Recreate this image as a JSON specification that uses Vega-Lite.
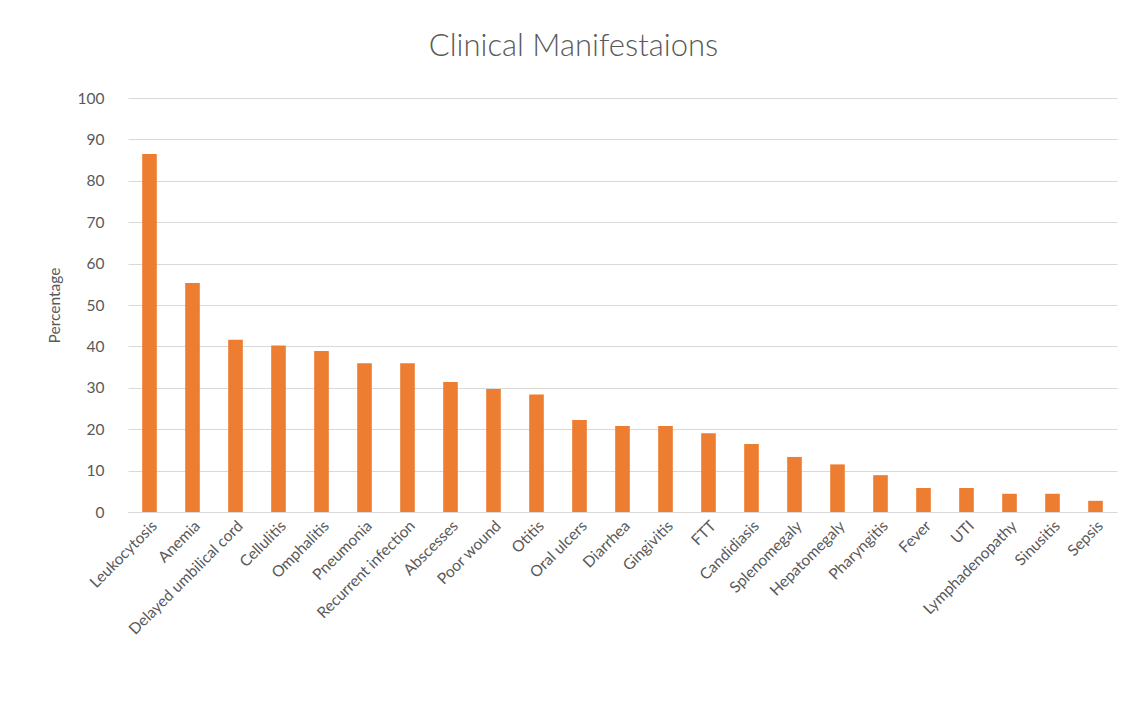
{
  "$schema": "https://vega.github.io/schema/vega-lite/v6.json",
  "autosize": {"type": "none"},
  "width": 989,
  "height": 414,
  "padding": {"left": 128, "top": 98, "right": 14, "bottom": 190},
  "background": "white",
  "title": {"text": "Clinical Manifestaions", "fontSize": 31, "font": "Lato", "fontWeight": 300, "color": "#595959", "offset": 28, "anchor": "middle", "dx": -49},
  "data": {"values": [
    {"m": "Leukocytosis", "p": 86.5},
    {"m": "Anemia", "p": 55.3},
    {"m": "Delayed umbilical cord", "p": 41.6},
    {"m": "Cellulitis", "p": 40.2},
    {"m": "Omphalitis", "p": 38.9},
    {"m": "Pneumonia", "p": 35.9},
    {"m": "Recurrent infection", "p": 35.9},
    {"m": "Abscesses", "p": 31.4},
    {"m": "Poor wound", "p": 29.7},
    {"m": "Otitis", "p": 28.4},
    {"m": "Oral ulcers", "p": 22.2},
    {"m": "Diarrhea", "p": 20.8},
    {"m": "Gingivitis", "p": 20.8},
    {"m": "FTT", "p": 19.0},
    {"m": "Candidiasis", "p": 16.4},
    {"m": "Splenomegaly", "p": 13.3},
    {"m": "Hepatomegaly", "p": 11.5},
    {"m": "Pharyngitis", "p": 8.9},
    {"m": "Fever", "p": 5.8},
    {"m": "UTI", "p": 5.8},
    {"m": "Lymphadenopathy", "p": 4.4},
    {"m": "Sinusitis", "p": 4.4},
    {"m": "Sepsis", "p": 2.7}
  ]},
  "mark": {"type": "bar", "color": "#ED7D31"},
  "encoding": {
    "x": {"field": "m", "type": "nominal", "sort": null,
      "scale": {"paddingInner": 0.66, "paddingOuter": 0.33},
      "axis": {"title": null, "labelAngle": -45, "labelFont": "Lato", "labelFontSize": 15.5, "labelColor": "#595959",
        "ticks": false, "domainColor": "#d9d9d9", "labelPadding": 6, "labelLimit": 300}},
    "y": {"field": "p", "type": "quantitative",
      "scale": {"domain": [0, 100]},
      "axis": {"title": "Percentage", "titleFont": "Lato", "titleFontSize": 15.5, "titleFontWeight": "normal", "titleColor": "#595959",
        "titlePadding": 15, "values": [0,10,20,30,40,50,60,70,80,90,100],
        "labelFont": "Lato", "labelFontSize": 15.5, "labelColor": "#595959", "labelPadding": 24,
        "ticks": false, "domain": false, "gridColor": "#d9d9d9", "gridWidth": 1.2}}
  },
  "config": {"view": {"stroke": null}}
}
